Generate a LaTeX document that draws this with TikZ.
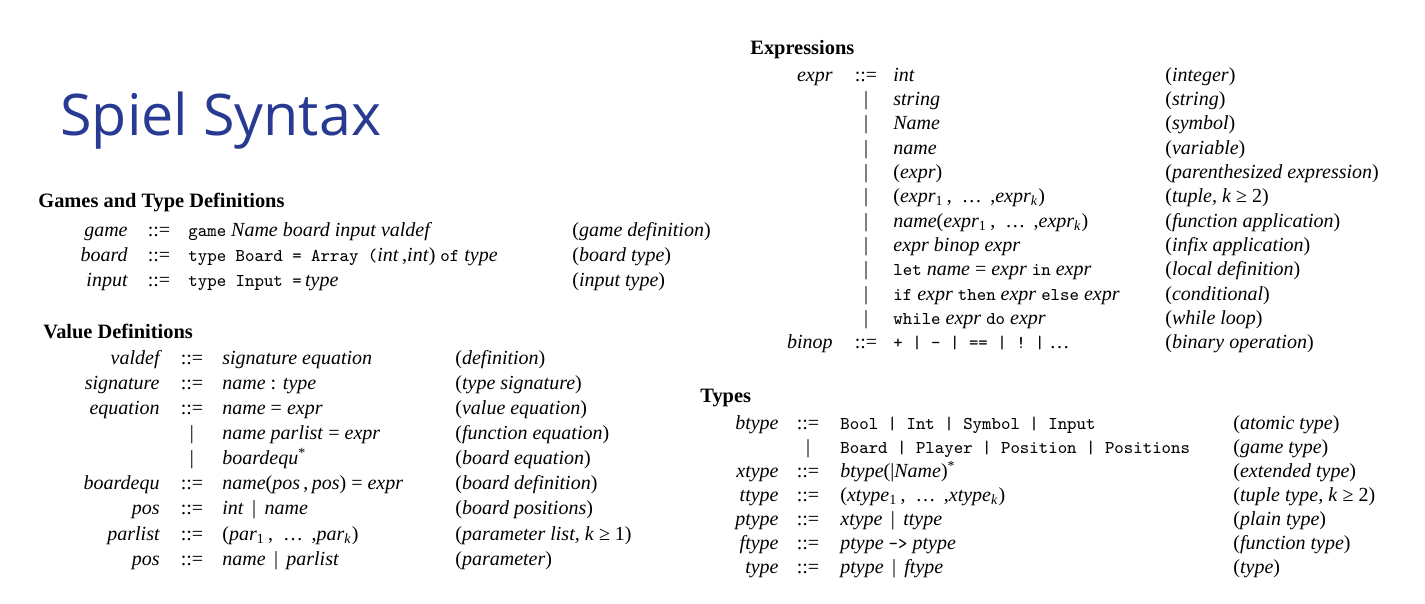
\documentclass[tikz,border=0pt]{standalone}
\usepackage{fontspec}
\setmainfont{Liberation Serif}
\setmonofont{Latin Modern Mono}[Scale=0.9]
\newfontfamily\titlefont{Open Sans}
\usetikzlibrary{positioning}

\definecolor{titleblue}{RGB}{40,58,145}

% 非终结符
\newcommand{\nt}[1]{\textit{#1}}
% 一行产生式
\newcommand{\rulerow}[6]{%
  \node[lhs]  (#1l) at (\colL,#2) {#3};
  \node[sep]  (#1s) at (\colS,#2) {#4};
  \node[rhs]  (#1r) at (\colR,#2) {#5};
  \node[note] (#1n) at (\colN,#2) {(#6)};}

\begin{document}
\begin{tikzpicture}[x=0.5pt,y=-0.5pt,
  every node/.style={inner sep=0pt,font=\fontsize{10}{12}\selectfont},
  lhs/.style={anchor=base east,font=\fontsize{10}{12}\selectfont\itshape},
  sep/.style={anchor=base},
  rhs/.style={anchor=base west},
  note/.style={anchor=base west},
  head/.style={anchor=base west,font=\fontsize{10.2}{12}\selectfont\bfseries}]

\useasboundingbox (0,0) rectangle (1425,604);

\begin{scope}[yshift=-1.25pt]
% 标题
\node[anchor=base west,text=titleblue,font=\titlefont\fontsize{28.7}{30}\selectfont] (title) at (60,133) {Spiel Syntax};

% 游戏与类型定义
\node[head] (gamehead) at (38,205) {Games and Type Definitions};
\def\colL{128}\def\colS{159}\def\colR{188}\def\colN{572}
\rulerow{g1}{234}{game}{::=}{\texttt{game} \nt{Name board input valdef}}{\nt{game definition}}
\rulerow{g2}{259}{board}{::=}{\texttt{type Board = Array (}\nt{int}\,,\nt{int}) \texttt{of} \nt{type}}{\nt{board type}}
\rulerow{g3}{284}{input}{::=}{\texttt{type Input =}\,\nt{type}}{\nt{input type}}

% 值定义
\node[head] (valhead) at (43,336) {Value Definitions};
\def\colL{160}\def\colS{192}\def\colR{222}\def\colN{455}
\rulerow{v1}{362}{valdef}{::=}{\nt{signature equation}}{\nt{definition}}
\rulerow{v2}{387}{signature}{::=}{\nt{name} : \nt{type}}{\nt{type signature}}
\rulerow{v3}{412}{equation}{::=}{\nt{name} = \nt{expr}}{\nt{value equation}}
\rulerow{v4}{437}{}{|}{\nt{name parlist} = \nt{expr}}{\nt{function equation}}
\rulerow{v5}{462}{}{|}{\nt{boardequ}\textsuperscript{*}}{\nt{board equation}}
\rulerow{v6}{487}{boardequ}{::=}{\nt{name}(\nt{pos}\,,\,\nt{pos}) = \nt{expr}}{\nt{board definition}}
\rulerow{v7}{512}{pos}{::=}{\nt{int} \,|\, \nt{name}}{\nt{board positions}}
\rulerow{v8}{538}{parlist}{::=}{(\nt{par}\textsubscript{1}\,, \ \dots\ \,,\nt{par}\textsubscript{\nt{k}})}{\nt{parameter list, k} ≥ 1}
\rulerow{v9}{563}{pos}{::=}{\nt{name} \,|\, \nt{parlist}}{\nt{parameter}}

% 表达式
\node[head] (exprhead) at (750,52) {Expressions};
\def\colL{833}\def\colS{866}\def\colR{893}\def\colN{1165}
\rulerow{e1}{79}{expr}{::=}{\nt{int}}{\nt{integer}}
\rulerow{e2}{103}{}{|}{\nt{string}}{\nt{string}}
\rulerow{e3}{127}{}{|}{\nt{Name}}{\nt{symbol}}
\rulerow{e4}{152}{}{|}{\nt{name}}{\nt{variable}}
\rulerow{e5}{176}{}{|}{(\nt{expr})}{\nt{parenthesized expression}}
\rulerow{e6}{200}{}{|}{(\nt{expr}\textsubscript{1}\,, \ \dots\ \,,\nt{expr}\textsubscript{\nt{k}})}{\nt{tuple, k} ≥ 2}
\rulerow{e7}{225}{}{|}{\nt{name}(\nt{expr}\textsubscript{1}\,, \ \dots\ \,,\nt{expr}\textsubscript{\nt{k}})}{\nt{function application}}
\rulerow{e8}{249}{}{|}{\nt{expr binop expr}}{\nt{infix application}}
\rulerow{e9}{273}{}{|}{\texttt{let} \nt{name} = \nt{expr} \texttt{in} \nt{expr}}{\nt{local definition}}
\rulerow{e10}{298}{}{|}{\texttt{if} \nt{expr} \texttt{then} \nt{expr} \texttt{else} \nt{expr}}{\nt{conditional}}
\rulerow{e11}{322}{}{|}{\texttt{while} \nt{expr} \texttt{do} \nt{expr}}{\nt{while loop}}
\rulerow{e12}{346}{binop}{::=}{\texttt{+ | - | == | ! |} \dots}{\nt{binary operation}}

% 类型
\node[head] (typehead) at (700,400) {Types};
\def\colL{779}\def\colS{808}\def\colR{840}\def\colN{1233}
\rulerow{t1}{427}{btype}{::=}{\texttt{Bool | Int | Symbol | Input}}{\nt{atomic type}}
\rulerow{t2}{451}{}{|}{\texttt{Board | Player | Position | Positions}}{\nt{game type}}
\rulerow{t3}{475}{xtype}{::=}{\nt{btype}(|\nt{Name})\textsuperscript{*}}{\nt{extended type}}
\rulerow{t4}{499}{ttype}{::=}{(\nt{xtype}\textsubscript{1}\,, \ \dots\ \,,\nt{xtype}\textsubscript{\nt{k}})}{\nt{tuple type, k} ≥ 2}
\rulerow{t5}{523}{ptype}{::=}{\nt{xtype} \,|\, \nt{ttype}}{\nt{plain type}}
\rulerow{t6}{547}{ftype}{::=}{\nt{ptype} \texttt{->} \nt{ptype}}{\nt{function type}}
\rulerow{t7}{571}{type}{::=}{\nt{ptype} \,|\, \nt{ftype}}{\nt{type}}
\end{scope}

\end{tikzpicture}
\end{document}
